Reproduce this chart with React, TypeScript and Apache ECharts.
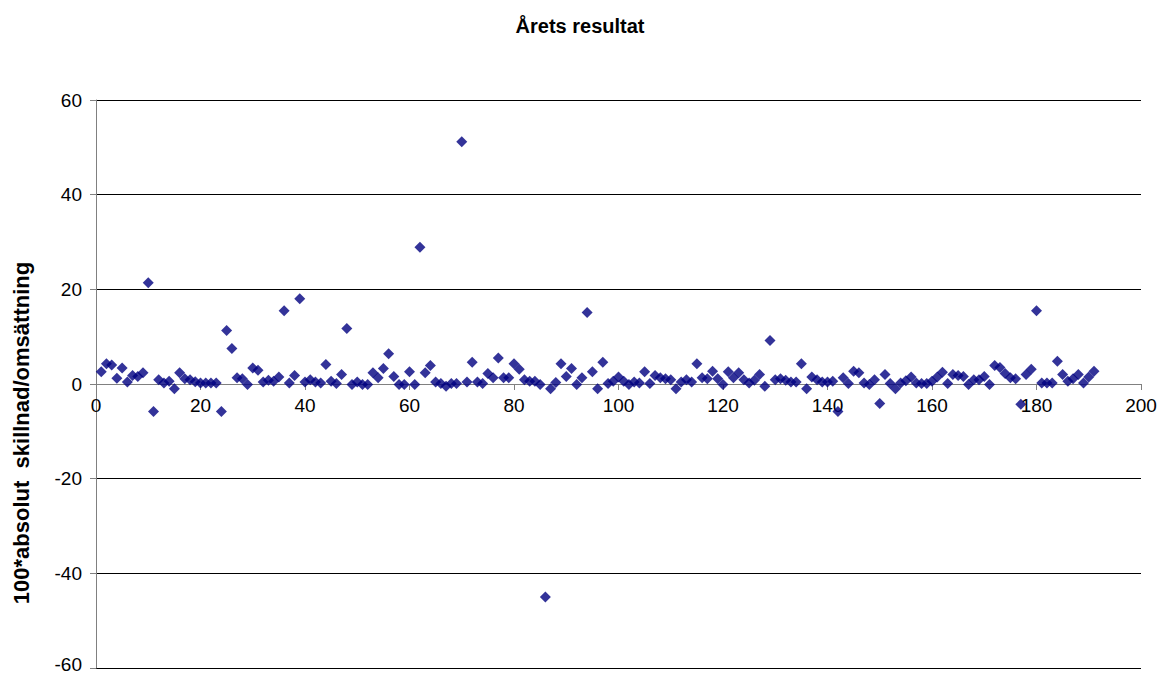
import React, { useEffect, useRef } from "react";
import * as echarts from "echarts";

const titleText = "Årets resultat";
const yAxisTitle = "100*absolut  skillnad/omsättning";
const xTicks = { min: 0, max: 200, interval: 20 };
const yTicks = { min: -60, max: 60, interval: 20 };

// values for observations 1..191
const values: number[] = [
  2.6, 4.3, 4.0, 1.2, 3.4, 0.4, 1.8, 1.6, 2.4, 21.4,
  -5.8, 0.9, 0.2, 0.6, -1.0, 2.4, 1.1, 0.9, 0.5, 0.2,
  0.2, 0.2, 0.2, -5.8, 11.3, 7.5, 1.3, 1.1, -0.1, 3.4,
  2.9, 0.4, 0.8, 0.6, 1.5, 15.5, 0.2, 1.8, 18.0, 0.4,
  0.9, 0.4, 0.2, 4.1, 0.6, 0.1, 2.0, 11.7, -0.1, 0.4,
  -0.1, -0.1, 2.4, 1.3, 3.3, 6.4, 1.6, -0.1, -0.1, 2.6,
  -0.1, 28.9, 2.4, 3.9, 0.4, 0.1, -0.5, 0.1, 0.1, 51.2,
  0.4, 4.6, 0.4, 0.1, 2.2, 1.3, 5.5, 1.3, 1.3, 4.3,
  3.1, 0.9, 0.6, 0.6, -0.1, -45.0, -1.0, 0.3, 4.3, 1.6,
  3.3, -0.1, 1.3, 15.1, 2.6, -1.0, 4.6, 0.1, 0.6, 1.5,
  0.6, -0.1, 0.4, 0.2, 2.6, 0.1, 1.8, 1.3, 1.1, 0.9,
  -1.0, 0.4, 0.9, 0.4, 4.3, 1.3, 1.1, 2.7, 1.1, -0.1,
  2.6, 1.3, 2.4, 0.9, 0.2, 0.8, 2.0, -0.5, 9.2, 0.9,
  1.1, 0.8, 0.4, 0.4, 4.3, -1.0, 1.5, 0.9, 0.4, 0.4,
  0.6, -5.8, 1.3, 0.1, 2.7, 2.4, 0.2, -0.1, 0.9, -4.1,
  2.0, 0.1, -1.0, 0.2, 0.7, 1.5, 0.2, 0.1, 0.1, 0.6,
  1.5, 2.5, 0.1, 2.0, 1.8, 1.6, -0.1, 0.9, 0.9, 1.6,
  -0.1, 3.9, 3.5, 2.2, 1.3, 1.1, -4.3, 2.0, 3.1, 15.5,
  0.2, 0.2, 0.2, 4.8, 2.0, 0.6, 1.1, 2.0, 0.2, 1.5,
  2.7,
];

const FONT = "'Liberation Sans', Arial, sans-serif";

export default function App() {
  const ref = useRef<HTMLDivElement>(null);
  useEffect(() => {
    if (!ref.current) return;
    const chart = echarts.init(ref.current, null, { renderer: "svg" });
    const data = values.map((v, i) => [i + 1, v]);
    chart.setOption({
      animation: false,
      backgroundColor: "#ffffff",
      title: {
        text: titleText,
        left: "center",
        top: 11,
        textStyle: { fontFamily: FONT, fontSize: 20, fontWeight: "bold", color: "#000" },
      },
      graphic: [
        {
          type: "text",
          x: 21,
          y: 433,
          rotation: Math.PI / 2,
          style: {
            text: yAxisTitle,
            fontFamily: FONT,
            fontSize: 22,
            fontWeight: "bold",
            fill: "#000",
            align: "center",
            verticalAlign: "middle",
          },
        },
      ],
      grid: [
        { left: 96, right: 19, top: 100, bottom: 7, containLabel: false, outerBoundsMode: "none" },
        { left: 96, right: 19, top: 100, bottom: 291, containLabel: false, outerBoundsMode: "none" },
      ],
      xAxis: [
        {
          type: "value",
          gridIndex: 0,
          min: xTicks.min,
          max: xTicks.max,
          interval: xTicks.interval,
          axisLine: { show: false },
          axisTick: { show: false },
          axisLabel: { show: false },
          splitLine: { show: false },
        },
        {
          type: "value",
          gridIndex: 1,
          position: "bottom",
          min: xTicks.min,
          max: xTicks.max,
          interval: xTicks.interval,
          axisLine: { show: true, onZero: false, lineStyle: { color: "#808080", width: 1 } },
          axisTick: { show: true, inside: false, length: 6, lineStyle: { color: "#808080" } },
          axisLabel: { color: "#000", fontFamily: FONT, fontSize: 19, margin: 12 },
          splitLine: { show: false },
        },
      ],
      yAxis: [
        {
          type: "value",
          gridIndex: 0,
          min: yTicks.min,
          max: yTicks.max,
          interval: yTicks.interval,
          axisLine: { show: true, lineStyle: { color: "#808080", width: 1 } },
          axisTick: { show: true, inside: false, length: 6, lineStyle: { color: "#808080" } },
          axisLabel: {
            color: "#000",
            fontFamily: FONT,
            fontSize: 19,
            margin: 14,
            formatter: (v: number) => (v === yTicks.min ? "{lo|" + v + "}" : String(v)),
            rich: {
              lo: {
                fontFamily: FONT,
                fontSize: 19,
                color: "#000",
                lineHeight: 14,
                padding: [0, 0, 7, 0],
              },
            },
          },
          splitLine: { show: true, lineStyle: { color: "#000", width: 1 } },
        },
        {
          type: "value",
          gridIndex: 1,
          show: false,
          min: 0,
          max: 1,
        },
      ],
      series: [
        {
          type: "scatter",
          xAxisIndex: 0,
          yAxisIndex: 0,
          data,
          symbol: "diamond",
          symbolSize: [11, 11],
          itemStyle: { color: "#000080" },
          z: 5,
        },
      ],
    });
    return () => chart.dispose();
  }, []);
  return (
    <div
      ref={ref}
      style={{ position: "absolute", left: 0, top: 0, width: 1160, height: 675 }}
    />
  );
}
